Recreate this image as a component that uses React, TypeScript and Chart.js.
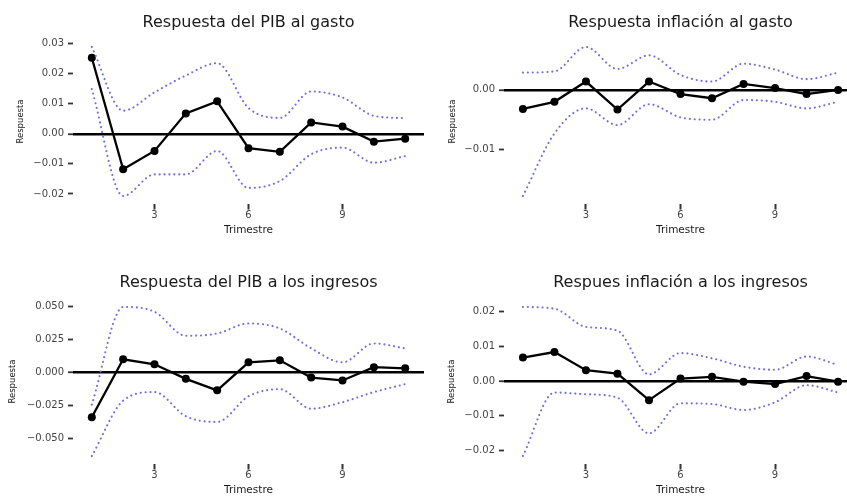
import React, { useEffect, useRef } from "react";
import { Chart, registerables } from "chart.js";

Chart.register(...registerables);

// ---------- data ----------
const trimestres = [1, 2, 3, 4, 5, 6, 7, 8, 9, 10, 11];
const xTickValues = [3, 6, 9];

const pibGastoResp = [0.0253, -0.0118, -0.0057, 0.0068, 0.0108, -0.0048, -0.006, 0.0038, 0.0024, -0.0026, -0.0016];
const pibGastoUpper = [0.0289, 0.0077, 0.0138, 0.0194, 0.0235, 0.0086, 0.0053, 0.0141, 0.0121, 0.006, 0.0052];
const pibGastoLower = [0.0149, -0.0207, -0.0135, -0.0135, -0.0057, -0.018, -0.0157, -0.0068, -0.0046, -0.0096, -0.0074];
const pibGastoYTicks = [-0.02, -0.01, 0, 0.01, 0.02, 0.03];

const inflGastoResp = [-0.0032, -0.002, 0.0014, -0.0033, 0.0014, -0.0007, -0.0014, 0.001, 0.0003, -0.0007, 0.0];
const inflGastoUpper = [0.0029, 0.0031, 0.0072, 0.0035, 0.0058, 0.0025, 0.0014, 0.0044, 0.0034, 0.0018, 0.0029];
const inflGastoLower = [-0.0178, -0.0073, -0.0031, -0.0059, -0.0024, -0.0046, -0.005, -0.0017, -0.002, -0.0031, -0.002];
const inflGastoYTicks = [-0.01, 0];

const pibIngResp = [-0.0338, 0.01, 0.0062, -0.0048, -0.0135, 0.0077, 0.0092, -0.0038, -0.006, 0.004, 0.0032];
const pibIngUpper = [-0.0243, 0.0496, 0.0459, 0.0278, 0.0295, 0.0371, 0.0333, 0.0183, 0.0077, 0.022, 0.0183];
const pibIngLower = [-0.0632, -0.0213, -0.0148, -0.0331, -0.0374, -0.018, -0.0126, -0.0274, -0.0224, -0.0148, -0.0088];
const pibIngYTicks = [-0.05, -0.025, 0, 0.025, 0.05];

const inflIngResp = [0.0067, 0.0083, 0.0031, 0.0021, -0.0055, 0.0007, 0.0012, -0.0002, -0.0009, 0.0014, -0.0002];
const inflIngUpper = [0.0212, 0.0207, 0.0155, 0.0144, 0.0019, 0.008, 0.0065, 0.0041, 0.0032, 0.007, 0.0046];
const inflIngLower = [-0.0215, -0.0033, -0.0038, -0.0048, -0.015, -0.0064, -0.0066, -0.0083, -0.0061, -0.0012, -0.0033];
const inflIngYTicks = [-0.02, -0.01, 0, 0.01, 0.02];

const xTitle = "Trimestre";
const yTitle = "Respuesta";

// ---------- styling ----------
const FONT = "'DejaVu Sans', 'Liberation Sans', Arial, sans-serif";
const BAND_COLOR = "#7470dc";

type PanelSpec = {
  title: string;
  resp: number[];
  upper: number[];
  lower: number[];
  yTicks: number[];
  decimals: number;
  left: number;
  top: number;
  width: number;
  chartLeft: number;
  yTitlePad: number;
};

const panels: PanelSpec[] = [
  { title: "Respuesta del PIB al gasto", resp: pibGastoResp, upper: pibGastoUpper, lower: pibGastoLower, yTicks: pibGastoYTicks, decimals: 2, left: 0, top: 0, width: 428, chartLeft: 73, yTitlePad: 16 },
  { title: "Respuesta inflación al gasto", resp: inflGastoResp, upper: inflGastoUpper, lower: inflGastoLower, yTicks: inflGastoYTicks, decimals: 2, left: 424, top: 0, width: 437, chartLeft: 80, yTitlePad: 24 },
  { title: "Respuesta del PIB a los ingresos", resp: pibIngResp, upper: pibIngUpper, lower: pibIngLower, yTicks: pibIngYTicks, decimals: 3, left: 0, top: 260, width: 428, chartLeft: 73, yTitlePad: 8 },
  { title: "Respues inflación a los ingresos", resp: inflIngResp, upper: inflIngUpper, lower: inflIngLower, yTicks: inflIngYTicks, decimals: 2, left: 424, top: 260, width: 437, chartLeft: 80, yTitlePad: 23 },
];

const H = 248;

function fmt(v: number, d: number) {
  const s = Math.abs(v) < 1e-12 ? (0).toFixed(d) : v.toFixed(d);
  return s.replace("-", "\u2212");
}

function Panel({ spec }: { spec: PanelSpec }) {
  const ref = useRef<HTMLCanvasElement | null>(null);
  useEffect(() => {
    if (!ref.current) return;
    const lo = Math.min(...spec.lower, ...spec.resp);
    const hi = Math.max(...spec.upper, ...spec.resp);
    const pad = (hi - lo) * 0.05;
    const toPts = (arr: number[]) => trimestres.map((x, i) => ({ x, y: arr[i] }));
    const band = (arr: number[]) => ({
      data: toPts(arr),
      borderColor: BAND_COLOR,
      borderWidth: 2.1,
      borderDash: [0.1, 4.8],
      borderCapStyle: "round" as const,
      pointRadius: 0,
      cubicInterpolationMode: "monotone" as const,
      fill: false,
    });
    const chart = new Chart(ref.current, {
      type: "line",
      data: {
        datasets: [
          band(spec.upper),
          band(spec.lower),
          {
            data: toPts(spec.resp),
            borderColor: "#000",
            borderWidth: 2.3,
            pointRadius: 4,
            pointBackgroundColor: "#000",
            pointBorderColor: "#000",
            pointBorderWidth: 0,
            tension: 0,
            fill: false,
          },
        ],
      } as any,
      options: {
        responsive: false,
        animation: false,
        devicePixelRatio: 1,
        layout: { padding: 0 },
        plugins: {
          legend: { display: false },
          tooltip: { enabled: false },
          title: {
            display: true,
            text: spec.title,
            fullSize: false,
            color: "#1a1a1a",
            font: { family: FONT, size: 16, weight: "normal" },
            padding: { top: 13.4, bottom: 6.9 },
          },
        },
        scales: {
          x: {
            type: "linear",
            min: 0.4,
            max: 11.6,
            afterBuildTicks: (s: any) => {
              s.ticks = xTickValues.map((v) => ({ value: v }));
            },
            afterFit: (s: any) => {
              s.height = 44.5;
            },
            border: { display: false },
            grid: {
              drawOnChartArea: false,
              drawTicks: true,
              tickLength: 6,
              tickColor: "#333",
              tickWidth: 2,
            },
            ticks: {
              autoSkip: false,
              maxRotation: 0,
              padding: 0,
              color: "#444",
              font: { family: FONT, size: 10 },
              callback: (v: any) => String(v),
            },
            title: {
              display: true,
              text: xTitle,
              color: "#1a1a1a",
              font: { family: FONT, size: 10.5 },
              padding: { top: 0, bottom: 11 },
            },
          },
          y: {
            type: "linear",
            min: lo - pad,
            max: hi + pad,
            afterBuildTicks: (s: any) => {
              s.ticks = spec.yTicks.map((v) => ({ value: v }));
            },
            afterFit: (s: any) => {
              s.width = spec.chartLeft;
            },
            border: { display: false },
            grid: {
              drawOnChartArea: true,
              drawTicks: true,
              tickLength: 5,
              tickColor: "#333",
              tickWidth: 1.8,
              color: (ctx: any) => (ctx.tick && ctx.tick.value === 0 ? "#000" : "rgba(0,0,0,0)"),
              lineWidth: (ctx: any) => (ctx.tick && ctx.tick.value === 0 ? 2.5 : 1),
            },
            ticks: {
              padding: 4,
              color: "#444",
              font: { family: FONT, size: 10 },
              callback: (v: any) => fmt(Number(v), spec.decimals),
            },
            title: {
              display: true,
              text: yTitle,
              color: "#1a1a1a",
              font: { family: FONT, size: 8.5 },
              padding: { top: spec.yTitlePad, bottom: 0 },
            },
          },
        },
      } as any,
    });
    return () => chart.destroy();
  }, [spec]);
  return (
    <canvas
      ref={ref}
      width={spec.width}
      height={H}
      style={{ position: "absolute", left: spec.left, top: spec.top, width: spec.width, height: H }}
    />
  );
}

export default function App() {
  return (
    <div
      style={{
        position: "fixed",
        left: 0,
        top: 0,
        width: 847,
        height: 496,
        overflow: "hidden",
        background: "#fff",
      }}
    >
      {panels.map((p, i) => (
        <Panel key={i} spec={p} />
      ))}
    </div>
  );
}
